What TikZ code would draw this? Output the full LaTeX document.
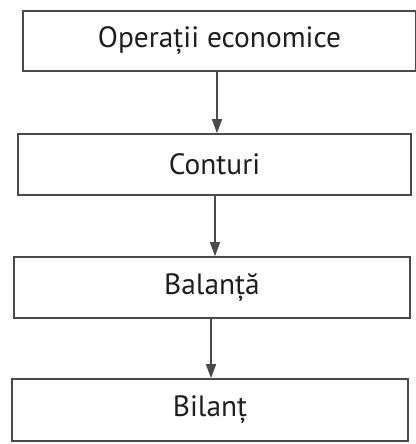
\documentclass[tikz,border=0pt]{standalone}
\usepackage{fontspec}
\setmainfont{PT Sans}
\usetikzlibrary{arrows.meta}
\definecolor{linegray}{HTML}{4A4A4A}
\definecolor{txt}{HTML}{1E1E1E}
\tikzset{
  box/.style={draw=linegray, line width=1.6bp, rectangle, inner sep=0pt,
    text=txt, font=\fontsize{29.5}{33}\selectfont},
  arr/.style={draw=linegray, line width=1.5bp,
    -{Triangle[length=14bp,width=10bp]}}
}
\begin{document}
\begin{tikzpicture}[x=1bp,y=-1bp]
\useasboundingbox (0,0) rectangle (415,444);
\fill[white] (0,0) rectangle (415,444);
\node[box, minimum width=393bp, minimum height=60bp] (b1) at (219.5,41) {Operații economice};
\node[box, minimum width=393bp, minimum height=61bp] (b2) at (214.5,164.5) {Conturi};
\node[box, minimum width=396bp, minimum height=61bp] (b3) at (212,287.5) {Balanță};
\node[box, minimum width=396bp, minimum height=62bp] (b4) at (210,410) {Bilanț};
\coordinate (a1) at (217,0);
\coordinate (a2) at (215,0);
\coordinate (a3) at (211,0);
\draw[arr] (a1 |- b1.south) -- (a1 |- b2.north);
\draw[arr] (a2 |- b2.south) -- (a2 |- b3.north);
\draw[arr] (a3 |- b3.south) -- (a3 |- b4.north);
\end{tikzpicture}
\end{document}
